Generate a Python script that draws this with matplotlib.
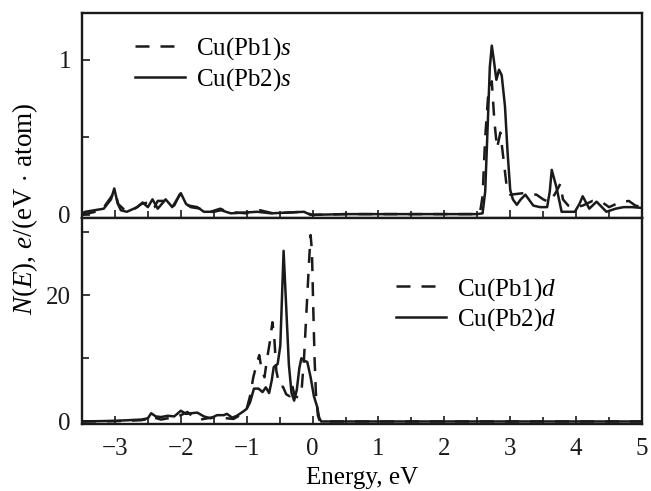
import matplotlib
matplotlib.use("Agg")
import matplotlib.pyplot as plt
from matplotlib.ticker import MultipleLocator

plt.rcParams['font.family'] = ['Liberation Serif', 'DejaVu Serif']
plt.rcParams['mathtext.fontset'] = 'custom'
plt.rcParams['mathtext.rm'] = 'Liberation Serif'
plt.rcParams['mathtext.it'] = 'Liberation Serif:italic'

# ---- data: s states (top panel) ----
x_s2 = [-3.5, -3.45, -3.17, -3.06, -3.01, -2.96, -2.91, -2.82, -2.66, -2.58, -2.5, -2.43,
        -2.35, -2.23, -2.13, -2.0, -1.92, -1.88, -1.75, -1.65, -1.5, -1.39, -1.24, -0.84,
        -0.63, -0.13, -0.03, 0.5, 1.0, 1.5, 2.0, 2.5, 2.58, 2.62, 2.66, 2.69, 2.72, 2.75,
        2.79, 2.83, 2.87, 2.92, 2.96, 3.0, 3.04, 3.1, 3.16, 3.23, 3.35, 3.45, 3.56, 3.6,
        3.63, 3.7, 3.78, 3.98, 4.05, 4.1, 4.2, 4.31, 4.46, 4.6, 4.72, 4.85, 5.0]
y_s2 = [0.01, 0.02, 0.04, 0.10, 0.17, 0.075, 0.03, 0.02, 0.05, 0.08, 0.05, 0.10,
        0.04, 0.10, 0.05, 0.14, 0.07, 0.06, 0.05, 0.02, 0.02, 0.03, 0.01, 0.02,
        0.01, 0.02, 0.0, 0.005, 0.005, 0.005, 0.005, 0.005, 0.01, 0.15, 0.6, 0.95, 1.09, 1.0,
        0.87, 0.935, 0.9, 0.7, 0.4, 0.16, 0.1, 0.065, 0.1, 0.13, 0.06, 0.05, 0.05, 0.15,
        0.29, 0.18, 0.02, 0.02, 0.07, 0.12, 0.04, 0.085, 0.02, 0.04, 0.05, 0.05, 0.045]

x_s1 = [-3.5, -3.2, -3.05, -3.0, -2.95, -2.85, -2.7, -2.6, -2.5, -2.45, -2.4, -2.35,
        -2.25, -2.1, -2.02, -1.95, -1.85, -1.7, -1.55, -1.4, -1.3, -1.0, -0.8, -0.6,
        -0.15, 0.0, 0.5, 1.0, 1.5, 2.0, 2.5, 2.54, 2.58, 2.62, 2.67, 2.72, 2.76, 2.8,
        2.85, 2.9, 2.95, 3.0, 3.2, 3.4, 3.5, 3.6, 3.7, 3.76, 3.8, 3.88, 4.0, 4.1,
        4.25, 4.4, 4.5, 4.66, 4.8, 4.9, 5.0]
y_s1 = [0.0, 0.03, 0.12, 0.15, 0.07, 0.03, 0.04, 0.07, 0.08, 0.04, 0.05, 0.09,
        0.09, 0.06, 0.13, 0.08, 0.05, 0.04, 0.02, 0.04, 0.02, 0.01, 0.03, 0.01,
        0.02, 0.0, 0.005, 0.005, 0.005, 0.005, 0.005, 0.01, 0.12, 0.5, 0.8, 0.86, 0.6, 0.43,
        0.53, 0.35, 0.17, 0.13, 0.14, 0.13, 0.1, 0.08, 0.15, 0.2, 0.1, 0.06, 0.05, 0.06,
        0.09, 0.08, 0.05, 0.08, 0.09, 0.06, 0.05]

# ---- data: d states (bottom panel) ----
x_d2 = [-3.5, -3.0, -2.6, -2.5, -2.45, -2.38, -2.3, -2.2, -2.1, -2.0, -1.92, -1.85,
        -1.75, -1.65, -1.55, -1.45, -1.35, -1.3, -1.22, -1.15, -1.05, -1.0, -0.95,
        -0.89, -0.82, -0.76, -0.71, -0.66, -0.62, -0.59, -0.53, -0.49, -0.44, -0.40,
        -0.36, -0.32, -0.28, -0.24, -0.2, -0.17, -0.12, -0.08, -0.03, 0.02, 0.07,
        0.1, 0.13, 1.0, 2.0, 3.0, 4.0, 5.0]
y_d2 = [0.0, 0.1, 0.3, 0.5, 1.3, 0.8, 0.7, 0.9, 0.8, 1.7, 1.2, 1.3,
        1.4, 0.8, 0.5, 1.0, 1.0, 1.2, 0.6, 0.9, 1.6, 2.0, 3.0,
        5.2, 5.2, 4.65, 5.4, 4.5, 6.5, 8.6, 9.1, 12.0, 27.0, 18.0,
        9.0, 4.5, 3.3, 5.0, 8.5, 10.0, 9.6, 9.4, 7.0, 4.0, 2.3,
        0.6, 0.0, 0.0, 0.0, 0.0, 0.0, 0.0]

x_d1 = [-3.5, -3.0, -2.6, -2.5, -2.45, -2.4, -2.3, -2.2, -2.1, -2.0, -1.9, -1.8,
        -1.7, -1.55, -1.4, -1.3, -1.2, -1.1, -1.0, -0.95, -0.9, -0.85, -0.81, -0.77,
        -0.73, -0.69, -0.65, -0.61, -0.58, -0.55, -0.5, -0.45, -0.4, -0.35, -0.31,
        -0.27, -0.22, -0.17, -0.13, -0.09, -0.05, -0.03, -0.01, 0.01, 0.03, 0.05,
        0.08, 0.11, 1.0, 2.0, 3.0, 4.0, 5.0]
y_d1 = [0.0, 0.05, 0.2, 0.4, 0.9, 0.6, 0.3, 0.5, 0.6, 1.0, 1.5, 0.6,
        0.3, 0.6, 0.7, 0.5, 0.4, 1.0, 2.0, 4.0, 7.0, 9.0, 10.5, 8.0,
        7.0, 10.0, 12.5, 15.7, 13.0, 8.0, 5.5, 5.5, 4.3, 4.0, 5.7,
        4.0, 3.8, 4.5, 10.0, 18.0, 26.0, 29.5, 27.0, 18.0, 10.0, 4.5,
        1.0, 0.0, 0.0, 0.0, 0.0, 0.0, 0.0]

labels_s = ['Cu(Pb1)$s$', 'Cu(Pb2)$s$']
labels_d = ['Cu(Pb1)$d$', 'Cu(Pb2)$d$']

W, H = 651, 491
fig = plt.figure(figsize=(W / 100, H / 100), dpi=100)
L, R = 82 / W, 642 / W
ax1 = fig.add_axes([L, 1 - 218 / H, R - L, (218 - 13) / H])
ax2 = fig.add_axes([L, 1 - 424 / H, R - L, (424 - 218) / H], sharex=ax1)

lw = 1.8
dash = (5.6, 4.4)
c = '#1a1a1a'
ax1.plot(x_s1, y_s1, color=c, lw=lw, ls=(0, dash), label=labels_s[0])
ax1.plot(x_s2, y_s2, color=c, lw=lw, label=labels_s[1])
ax2.plot(x_d1, y_d1, color=c, lw=lw, ls=(0, dash), label=labels_d[0])
ax2.plot(x_d2, y_d2, color=c, lw=lw, label=labels_d[1])

ax1.set_xlim(-3.5, 5)
ax1.set_ylim(-0.02, 1.3)
ax2.set_ylim(-0.4, 32.2)

for ax in (ax1, ax2):
    for sp in ax.spines.values():
        sp.set_linewidth(1.7)
        sp.set_color(c)
    ax.xaxis.set_major_locator(MultipleLocator(1))
    ax.xaxis.set_minor_locator(MultipleLocator(0.5))
    ax.tick_params(which='both', direction='in', top=False, right=False,
                   labelsize=18, colors=c, width=1.2)
    ax.tick_params(axis='x', which='both', pad=10)
    ax.tick_params(axis='y', which='both', pad=8)
    ax.tick_params(which='major', length=6)
    ax.tick_params(which='minor', length=5)

ax1.yaxis.set_major_locator(MultipleLocator(1))
ax1.yaxis.set_minor_locator(MultipleLocator(0.5))
ax2.yaxis.set_major_locator(MultipleLocator(20))
ax2.yaxis.set_minor_locator(MultipleLocator(10))
ax1.tick_params(axis='x', labelbottom=False)

ax2.set_xlabel('Energy, eV', fontsize=18, labelpad=5)
fig.text(25 / W, 1 - 209 / H, r'$N(E)$, $e$/(eV$\,\cdot\,$atom)', rotation=90,
         ha='center', va='center', fontsize=19.5)

leg_kw = dict(frameon=False, fontsize=18, handlelength=2.0, handletextpad=0.45,
              labelspacing=0.15, borderaxespad=0, borderpad=0, loc='upper left')
ax1.legend(bbox_to_anchor=(0.095, 0.89), **leg_kw)
ax2.legend(bbox_to_anchor=(0.56, 0.72), **leg_kw)

fig.savefig('out.png', dpi=100)
